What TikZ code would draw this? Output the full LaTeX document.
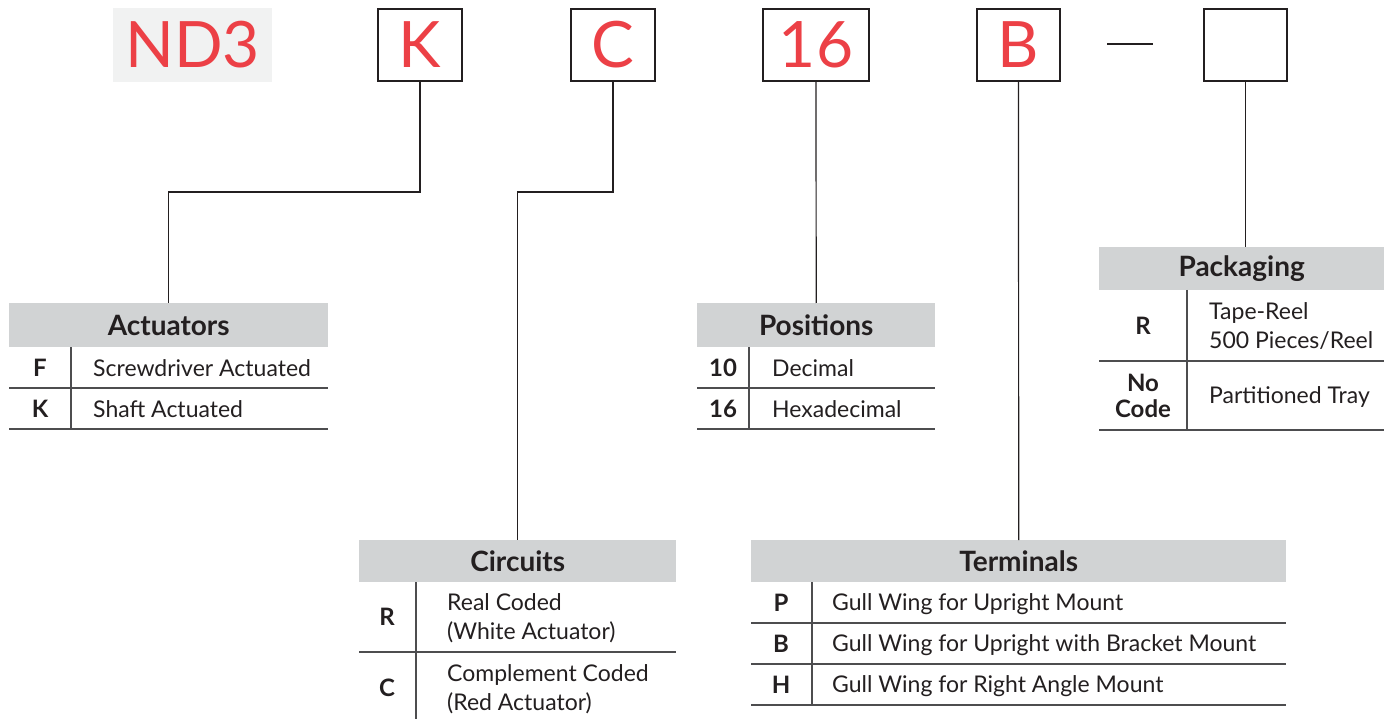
\documentclass[tikz,border=0pt]{standalone}
\usepackage{fontspec}
\setmainfont{Lato}
\definecolor{codered}{HTML}{EC4046}
\definecolor{hdrgray}{HTML}{D1D3D4}
\definecolor{ndbg}{HTML}{F1F2F2}
\definecolor{boxline}{HTML}{231F20}
\definecolor{rulegray}{HTML}{4D4D4F}
\begin{document}
\begin{tikzpicture}[x=1pt,y=-1pt,
  codebox/.style={draw=boxline, line width=2pt, minimum height=72pt, inner sep=0pt, text=codered, font=\fontsize{64}{64}\selectfont},
  hdr/.style={fill=hdrgray, inner sep=0pt, anchor=north west, text=boxline, font=\fontsize{28}{28}\selectfont\bfseries},
  conn/.style={draw=boxline, line width=1.2pt},
  tabrule/.style={draw=rulegray, line width=1.5pt},
  keytxt/.style={inner sep=0pt, align=center, text=boxline, font=\fontsize{24}{26}\selectfont\bfseries},
  desctxt/.style={inner sep=0pt, anchor=west, align=left, text=boxline, font=\fontsize{23}{29}\selectfont}]
\useasboundingbox (0,0) rectangle (1384,719);

% top code line
\node[fill=ndbg, minimum width=159pt, minimum height=74pt, inner sep=0pt, text=codered, font=\fontsize{64}{64}\selectfont] (nd) at (192.5,45) {ND3};
\node[codebox, minimum width=84pt] (kb) at (420,45) {K};
\node[codebox, minimum width=84pt] (cb) at (613,45) {C};
\node[codebox, minimum width=106pt] (sb) at (816,45) {16};
\node[codebox, minimum width=83pt] (bb) at (1018.5,45) {B};
\node[codebox, minimum width=83pt] (pb) at (1245.5,45) {};
\coordinate (dashL) at (1107,44);
\coordinate (dashR) at (1153,44);
\draw[boxline, line width=2.5pt] (dashL) -- (dashR);

% headers
\node[hdr, minimum width=319pt, minimum height=44pt] (act) at (9,303) {Actuators};
\node[hdr, minimum width=238pt, minimum height=44pt] (pos) at (697,303) {Positions};
\node[hdr, minimum width=285pt, minimum height=43pt] (pack) at (1099,247) {Packaging};
\node[hdr, minimum width=317pt, minimum height=42pt] (circ) at (359,540) {Circuits};
\node[hdr, minimum width=535pt, minimum height=42pt] (term) at (751,540) {Terminals};

% connectors
\coordinate (kbend) at (420,192);
\coordinate (cbend) at (613,192);
\draw[conn] (kb.south) -- (kbend) -| (act.north);
\draw[conn] (cb.south) -- (cbend) -| (circ.north);
\draw[conn] (sb.south) -- (pos.north);
\draw[conn] (bb.south) -- (term.north);
\draw[conn] (pb.south) -- (pb.south |- pack.north);

% Actuators table
\draw[tabrule] (9,388) -- (328,388);
\draw[tabrule] (9,429) -- (328,429);
\draw[tabrule] (71,347) -- (71,429);
\node[keytxt] (actF) at (40,368) {F};
\node[keytxt] (actK) at (40,409) {K};
\node[desctxt] (actFd) at (93,368) {Screwdriver Actuated};
\node[desctxt] (actKd) at (93,409) {Shaft Actuated};

% Positions table
\draw[tabrule] (697,388) -- (935,388);
\draw[tabrule] (697,429) -- (935,429);
\draw[tabrule] (749,347) -- (749,429);
\node[keytxt] (pos10) at (723,368) {10};
\node[keytxt] (pos16) at (723,409) {16};
\node[desctxt] (pos10d) at (772,368) {Decimal};
\node[desctxt] (pos16d) at (772,409) {Hexadecimal};

% Packaging table
\draw[tabrule] (1099,361) -- (1384,361);
\draw[tabrule] (1099,430) -- (1384,430);
\draw[tabrule] (1187,290) -- (1187,430);
\node[keytxt] (packR) at (1143,326) {R};
\node[keytxt] (packN) at (1143,396) {No\\Code};
\node[desctxt] (packRd) at (1209,326) {Tape-Reel\\500 Pieces/Reel};
\node[desctxt] (packNd) at (1209,397) {Partitioned Tray};

% Circuits table
\draw[tabrule] (359,652) -- (676,652);
\draw[tabrule] (416,582) -- (416,719);
\node[keytxt] (circR) at (387,617) {R};
\node[keytxt] (circC) at (387,688) {C};
\node[desctxt] (circRd) at (447,618) {Real Coded\\(White Actuator)};
\node[desctxt] (circCd) at (447,689) {Complement Coded\\(Red Actuator)};

% Terminals table
\draw[tabrule] (751,623) -- (1286,623);
\draw[tabrule] (751,664) -- (1286,664);
\draw[tabrule] (751,705) -- (1286,705);
\draw[tabrule] (812,582) -- (812,705);
\node[keytxt] (termP) at (781,603) {P};
\node[keytxt] (termB) at (781,644) {B};
\node[keytxt] (termH) at (781,685) {H};
\node[desctxt] (termPd) at (832,604) {Gull Wing for Upright Mount};
\node[desctxt] (termBd) at (832,645) {Gull Wing for Upright with Bracket Mount};
\node[desctxt] (termHd) at (832,686) {Gull Wing for Right Angle Mount};
\end{tikzpicture}
\end{document}
